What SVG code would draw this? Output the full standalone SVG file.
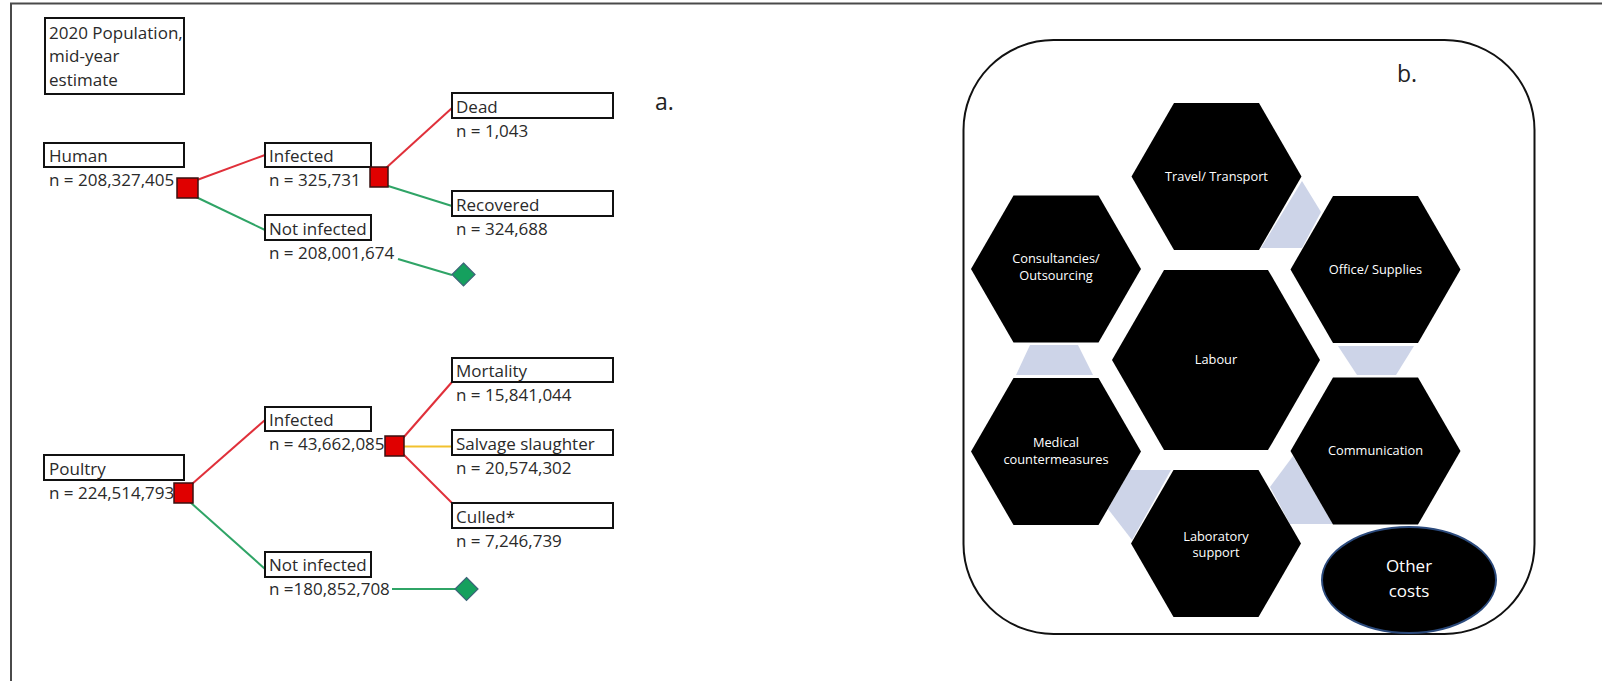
<svg xmlns="http://www.w3.org/2000/svg" width="1602" height="681" viewBox="0 0 1602 681">
<defs>
<style>
.frame{stroke:#4a4a4a;stroke-width:2;fill:none}
.box{fill:#fff;stroke:#111;stroke-width:2}
.t{font-family:"Open Sans","Liberation Sans",sans-serif;font-size:17px;fill:#2a2a2a}
.lbl{font-family:"Open Sans","Liberation Sans",sans-serif;font-size:23px;fill:#222}
.chance{fill:#e00000;stroke:#3a1010;stroke-width:1.5}
.term{fill:#15a05e;stroke:#3d6479;stroke-width:1.2}
.red{stroke:#e0303a;stroke-width:2;fill:none}
.grn{stroke:#2fa466;stroke-width:2;fill:none}
.yel{stroke:#f2c12e;stroke-width:2;fill:none}
.hex{fill:#000}
.ht{font-family:"Open Sans","Liberation Sans",sans-serif;font-size:12.8px;fill:#fff;text-anchor:middle}
.gap{fill:#cdd4e8}
</style>
</defs>
<rect width="1602" height="681" fill="#fff"/>
<g id="frame">
<line class="frame" x1="10" y1="3.5" x2="1602" y2="3.5"/>
<line class="frame" x1="11" y1="3" x2="11" y2="681"/>
</g>

<!-- Part a -->
<g id="connectors">
<line class="red" x1="197" y1="180" x2="265" y2="155"/>
<line class="grn" x1="196" y1="197" x2="265" y2="230"/>
<line class="red" x1="386" y1="168" x2="452" y2="108"/>
<line class="grn" x1="385" y1="185" x2="452" y2="206"/>
<line class="grn" x1="398" y1="259" x2="452" y2="275"/>
<line class="red" x1="192" y1="484" x2="265" y2="420"/>
<line class="grn" x1="190" y1="502" x2="265" y2="569"/>
<line class="red" x1="403" y1="438" x2="452" y2="382"/>
<line class="yel" x1="404" y1="446.5" x2="452" y2="446.5"/>
<line class="red" x1="403" y1="454" x2="452" y2="503"/>
<line class="grn" x1="392" y1="589" x2="455" y2="589"/>
</g>

<g id="pop-note">
<rect class="box" x="45" y="18" width="139" height="76"/>
<text class="t" x="49" y="39">2020 Population,</text>
<text class="t" x="49" y="62">mid-year</text>
<text class="t" x="49" y="85.5">estimate</text>
</g>
<text class="lbl" x="655" y="110">a.</text>

<g id="human">
<rect class="box" x="44" y="143" width="140" height="24"/>
<text class="t" x="49" y="161.5">Human</text>
<text class="t" x="49" y="186">n = 208,327,405</text>
<rect class="chance" x="177" y="178" width="21" height="20"/>
</g>
<g id="human-infected">
<rect class="box" x="265" y="143" width="106" height="24"/>
<text class="t" x="269" y="161.5">Infected</text>
<text class="t" x="269" y="186">n = 325,731</text>
<rect class="chance" x="370" y="167" width="18" height="20"/>
</g>
<g id="human-not-infected">
<rect class="box" x="265" y="215" width="106" height="25"/>
<text class="t" x="269" y="234.5">Not infected</text>
<text class="t" x="269" y="258.5">n = 208,001,674</text>
<polygon class="term" points="463.5,263 475,274.5 463.5,286 452,274.5"/>
</g>
<g id="human-dead">
<rect class="box" x="452" y="93" width="161" height="25"/>
<text class="t" x="456" y="113">Dead</text>
<text class="t" x="456" y="137">n = 1,043</text>
</g>
<g id="human-recovered">
<rect class="box" x="452" y="191" width="161" height="25"/>
<text class="t" x="456" y="211">Recovered</text>
<text class="t" x="456" y="235">n = 324,688</text>
</g>

<g id="poultry">
<rect class="box" x="44" y="455" width="140" height="25"/>
<text class="t" x="49" y="474.5">Poultry</text>
<text class="t" x="49" y="498.5">n = 224,514,793</text>
<rect class="chance" x="174" y="483" width="19" height="20"/>
</g>
<g id="poultry-infected">
<rect class="box" x="265" y="407" width="106" height="24"/>
<text class="t" x="269" y="426">Infected</text>
<text class="t" x="269" y="449.5">n = 43,662,085</text>
<rect class="chance" x="385" y="436" width="19" height="20"/>
</g>
<g id="poultry-not-infected">
<rect class="box" x="265" y="552" width="106" height="25"/>
<text class="t" x="269" y="571">Not infected</text>
<text class="t" x="269" y="595">n =180,852,708</text>
<polygon class="term" points="466.5,577.5 478,589 466.5,600.5 455,589"/>
</g>
<g id="poultry-mortality">
<rect class="box" x="452" y="358" width="161" height="24"/>
<text class="t" x="456" y="377">Mortality</text>
<text class="t" x="456" y="401">n = 15,841,044</text>
</g>
<g id="poultry-salvage">
<rect class="box" x="452" y="430" width="161" height="25"/>
<text class="t" x="456" y="449.5">Salvage slaughter</text>
<text class="t" x="456" y="474">n = 20,574,302</text>
</g>
<g id="poultry-culled">
<rect class="box" x="452" y="503" width="161" height="25"/>
<text class="t" x="456" y="522.5">Culled*</text>
<text class="t" x="456" y="547">n = 7,246,739</text>
</g>

<!-- Part b -->
<g id="panel-b">
<rect x="963.5" y="40" width="571" height="594" rx="90" ry="90" fill="#fff" stroke="#111" stroke-width="2"/>
<text class="lbl" x="1397" y="82">b.</text>
</g>
<g id="gaps">
<polygon class="gap" points="1302,181 1321,212 1302,248 1261,248"/>
<polygon class="gap" points="1338,346 1414,346 1396,375 1357,375"/>
<polygon class="gap" points="1030,345 1078,345 1093,375 1016,375"/>
<polygon class="gap" points="1130,470 1171,470 1132,540 1108,509"/>
<polygon class="gap" points="1293,456 1270,487 1290,524 1333,524"/>
</g>
<g id="travel">
<polygon class="hex" points="1131.5,176.5 1174,102.9 1259,102.9 1301.5,176.5 1259,250.1 1174,250.1"/>
<text class="ht" x="1216.5" y="180.5">Travel/ Transport</text>
</g>
<g id="consultancies">
<polygon class="hex" points="971,269 1013.5,195.4 1098.5,195.4 1141,269 1098.5,342.6 1013.5,342.6"/>
<text class="ht" x="1056" y="263">Consultancies/</text>
<text class="ht" x="1056" y="280">Outsourcing</text>
</g>
<g id="office">
<polygon class="hex" points="1290.5,269.5 1333,195.9 1418,195.9 1460.5,269.5 1418,343.1 1333,343.1"/>
<text class="ht" x="1375.5" y="273.5">Office/ Supplies</text>
</g>
<g id="labour">
<polygon class="hex" points="1112,360 1164,269.9 1268,269.9 1320,360 1268,450.1 1164,450.1"/>
<text class="ht" x="1216" y="363.5">Labour</text>
</g>
<g id="medical">
<polygon class="hex" points="971,451.5 1013.5,377.9 1098.5,377.9 1141,451.5 1098.5,525.1 1013.5,525.1"/>
<text class="ht" x="1056" y="447">Medical</text>
<text class="ht" x="1056" y="463.5">countermeasures</text>
</g>
<g id="communication">
<polygon class="hex" points="1290.5,451 1333,377.4 1418,377.4 1460.5,451 1418,524.6 1333,524.6"/>
<text class="ht" x="1375.5" y="455">Communication</text>
</g>
<g id="laboratory">
<polygon class="hex" points="1131,543.5 1173.5,469.9 1258.5,469.9 1301,543.5 1258.5,617.1 1173.5,617.1"/>
<text class="ht" x="1216" y="541">Laboratory</text>
<text class="ht" x="1216" y="557">support</text>
</g>
<g id="other-costs">
<ellipse cx="1409" cy="580" rx="87" ry="53" fill="#000" stroke="#2b4a7c" stroke-width="2"/>
<text font-family="'Open Sans','Liberation Sans',sans-serif" font-size="17" fill="#fff" text-anchor="middle" x="1409" y="572">Other</text>
<text font-family="'Open Sans','Liberation Sans',sans-serif" font-size="17" fill="#fff" text-anchor="middle" x="1409" y="597">costs</text>
</g>
</svg>
